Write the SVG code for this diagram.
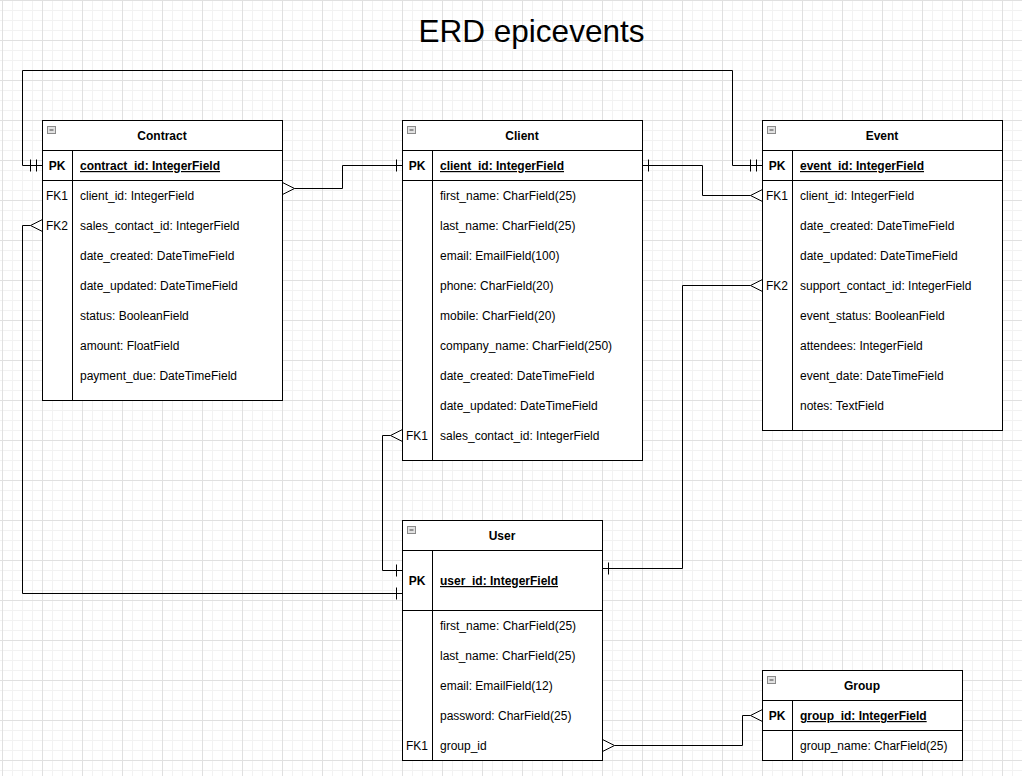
<svg xmlns="http://www.w3.org/2000/svg" width="1022" height="776" viewBox="0 0 1022 776">
<defs>
<pattern id="gridMinor" patternUnits="userSpaceOnUse" x="2" y="0" width="10" height="10">
<path d="M0.5,0 V10 M0,0.5 H10" stroke="#f2f2f2" stroke-width="1" fill="none"/>
</pattern>
<pattern id="gridMajor" patternUnits="userSpaceOnUse" x="2" y="0" width="40" height="40">
<path d="M0.5,0 V40 M0,0.5 H40" stroke="#e0e0e0" stroke-width="1" fill="none"/>
</pattern>
<marker id="one" markerUnits="userSpaceOnUse" viewBox="-14 -8 16 16" refX="0" refY="0" markerWidth="16" markerHeight="16" orient="auto-start-reverse" overflow="visible">
<path d="M-6,-6 V6" stroke="#000" stroke-width="1" fill="none"/>
</marker>
<marker id="mandOne" markerUnits="userSpaceOnUse" viewBox="-14 -8 16 16" refX="0" refY="0" markerWidth="16" markerHeight="16" orient="auto-start-reverse" overflow="visible">
<path d="M-6,-6 V6 M-12,-6 V6" stroke="#000" stroke-width="1" fill="none"/>
</marker>
<marker id="many" markerUnits="userSpaceOnUse" viewBox="-2 -8 16 16" refX="0" refY="0" markerWidth="16" markerHeight="16" orient="auto-start-reverse" overflow="visible">
<path d="M12,-6 L0,0 L12,6" stroke="#000" stroke-width="1" fill="none"/>
</marker>
<g id="minus">
<rect x="0" y="0" width="8" height="7" fill="#e2e2e2" stroke="#8a8a8a" stroke-width="1"/>
<path d="M2,3.5 H6" stroke="#444" stroke-width="1"/>
</g>
</defs>
<style>
text { font-family: "Liberation Sans", Arial, Helvetica, sans-serif; fill: #000; }
.t { font-size: 12px; }
.b { font-weight: bold; }
.u { text-decoration: underline; }
.c { text-anchor: middle; }
.box { fill: #fff; stroke: #000; stroke-width: 1; }
.ln { stroke: #000; stroke-width: 1; fill: none; }
.con { stroke: #000; stroke-width: 1; fill: none; }
.title { font-size: 31.5px; text-anchor: middle; }
</style>
<rect x="0" y="0" width="1022" height="776" fill="#fff"/>
<rect x="0" y="0" width="1022" height="776" fill="url(#gridMinor)"/>
<rect x="0" y="0" width="1022" height="776" fill="url(#gridMajor)"/>

<text class="title" x="531.5" y="41.5">ERD epicevents</text>

<g id="connectors">
<path class="con" d="M42.5,165.5 H22.5 V70.5 H732.5 V165.5 H762.5" marker-start="url(#mandOne)" marker-end="url(#mandOne)"/>
<path class="con" d="M294.5,188.5 H342.5 V165.5 H402.5" marker-start="url(#many)" marker-end="url(#one)"/>
<path class="con" d="M642.5,165.5 H702.5 V195.5 H750.5" marker-start="url(#one)" marker-end="url(#many)"/>
<path class="con" d="M390.5,435.5 H382.5 V570.5 H402.5" marker-start="url(#many)" marker-end="url(#one)"/>
<path class="con" d="M30.5,225.5 H22.5 V593.5 H402.5" marker-start="url(#many)" marker-end="url(#one)"/>
<path class="con" d="M750.5,285.5 H682.5 V568.5 H602.5" marker-start="url(#many)" marker-end="url(#one)"/>
<path class="con" d="M614.5,745.5 H742.5 V715.5 H750.5" marker-start="url(#many)" marker-end="url(#many)"/>
</g>

<g id="contract">
<rect class="box" x="42.5" y="120.5" width="240" height="280"/>
<path class="ln" d="M42.5,150.5 H282.5 M42.5,180.5 H282.5 M72.5,150.5 V400.5"/>
<use href="#minus" x="47.5" y="126.5"/>
<text class="t b c" x="162" y="140">Contract</text>
<text class="t b c" x="57" y="170">PK</text>
<text class="t b u" x="80" y="170">contract_id: IntegerField</text>
<text class="t c" x="57" y="200">FK1</text>
<text class="t" x="80" y="200">client_id: IntegerField</text>
<text class="t c" x="57" y="230">FK2</text>
<text class="t" x="80" y="230">sales_contact_id: IntegerField</text>
<text class="t" x="80" y="260">date_created: DateTimeField</text>
<text class="t" x="80" y="290">date_updated: DateTimeField</text>
<text class="t" x="80" y="320">status: BooleanField</text>
<text class="t" x="80" y="350">amount: FloatField</text>
<text class="t" x="80" y="380">payment_due: DateTimeField</text>
</g>

<g id="client">
<rect class="box" x="402.5" y="120.5" width="240" height="340"/>
<path class="ln" d="M402.5,150.5 H642.5 M402.5,180.5 H642.5 M432.5,150.5 V460.5"/>
<use href="#minus" x="407.5" y="126.5"/>
<text class="t b c" x="522" y="140">Client</text>
<text class="t b c" x="417" y="170">PK</text>
<text class="t b u" x="440" y="170">client_id: IntegerField</text>
<text class="t" x="440" y="200">first_name: CharField(25)</text>
<text class="t" x="440" y="230">last_name: CharField(25)</text>
<text class="t" x="440" y="260">email: EmailField(100)</text>
<text class="t" x="440" y="290">phone: CharField(20)</text>
<text class="t" x="440" y="320">mobile: CharField(20)</text>
<text class="t" x="440" y="350">company_name: CharField(250)</text>
<text class="t" x="440" y="380">date_created: DateTimeField</text>
<text class="t" x="440" y="410">date_updated: DateTimeField</text>
<text class="t c" x="417" y="440">FK1</text>
<text class="t" x="440" y="440">sales_contact_id: IntegerField</text>
</g>

<g id="event">
<rect class="box" x="762.5" y="120.5" width="240" height="310"/>
<path class="ln" d="M762.5,150.5 H1002.5 M762.5,180.5 H1002.5 M792.5,150.5 V430.5"/>
<use href="#minus" x="767.5" y="126.5"/>
<text class="t b c" x="882" y="140">Event</text>
<text class="t b c" x="777" y="170">PK</text>
<text class="t b u" x="800" y="170">event_id: IntegerField</text>
<text class="t c" x="777" y="200">FK1</text>
<text class="t" x="800" y="200">client_id: IntegerField</text>
<text class="t" x="800" y="230">date_created: DateTimeField</text>
<text class="t" x="800" y="260">date_updated: DateTimeField</text>
<text class="t c" x="777" y="290">FK2</text>
<text class="t" x="800" y="290">support_contact_id: IntegerField</text>
<text class="t" x="800" y="320">event_status: BooleanField</text>
<text class="t" x="800" y="350">attendees: IntegerField</text>
<text class="t" x="800" y="380">event_date: DateTimeField</text>
<text class="t" x="800" y="410">notes: TextField</text>
</g>

<g id="user">
<rect class="box" x="402.5" y="520.5" width="200" height="240"/>
<path class="ln" d="M402.5,550.5 H602.5 M402.5,610.5 H602.5 M432.5,550.5 V760.5"/>
<use href="#minus" x="407.5" y="526.5"/>
<text class="t b c" x="502" y="540">User</text>
<text class="t b c" x="417" y="585">PK</text>
<text class="t b u" x="440" y="585">user_id: IntegerField</text>
<text class="t" x="440" y="630">first_name: CharField(25)</text>
<text class="t" x="440" y="660">last_name: CharField(25)</text>
<text class="t" x="440" y="690">email: EmailField(12)</text>
<text class="t" x="440" y="720">password: CharField(25)</text>
<text class="t c" x="417" y="750">FK1</text>
<text class="t" x="440" y="750">group_id</text>
</g>

<g id="group">
<rect class="box" x="762.5" y="670.5" width="200" height="90"/>
<path class="ln" d="M762.5,700.5 H962.5 M762.5,730.5 H962.5 M792.5,700.5 V760.5"/>
<use href="#minus" x="767.5" y="676.5"/>
<text class="t b c" x="862" y="690">Group</text>
<text class="t b c" x="777" y="720">PK</text>
<text class="t b u" x="800" y="720">group_id: IntegerField</text>
<text class="t" x="800" y="750">group_name: CharField(25)</text>
</g>
</svg>
